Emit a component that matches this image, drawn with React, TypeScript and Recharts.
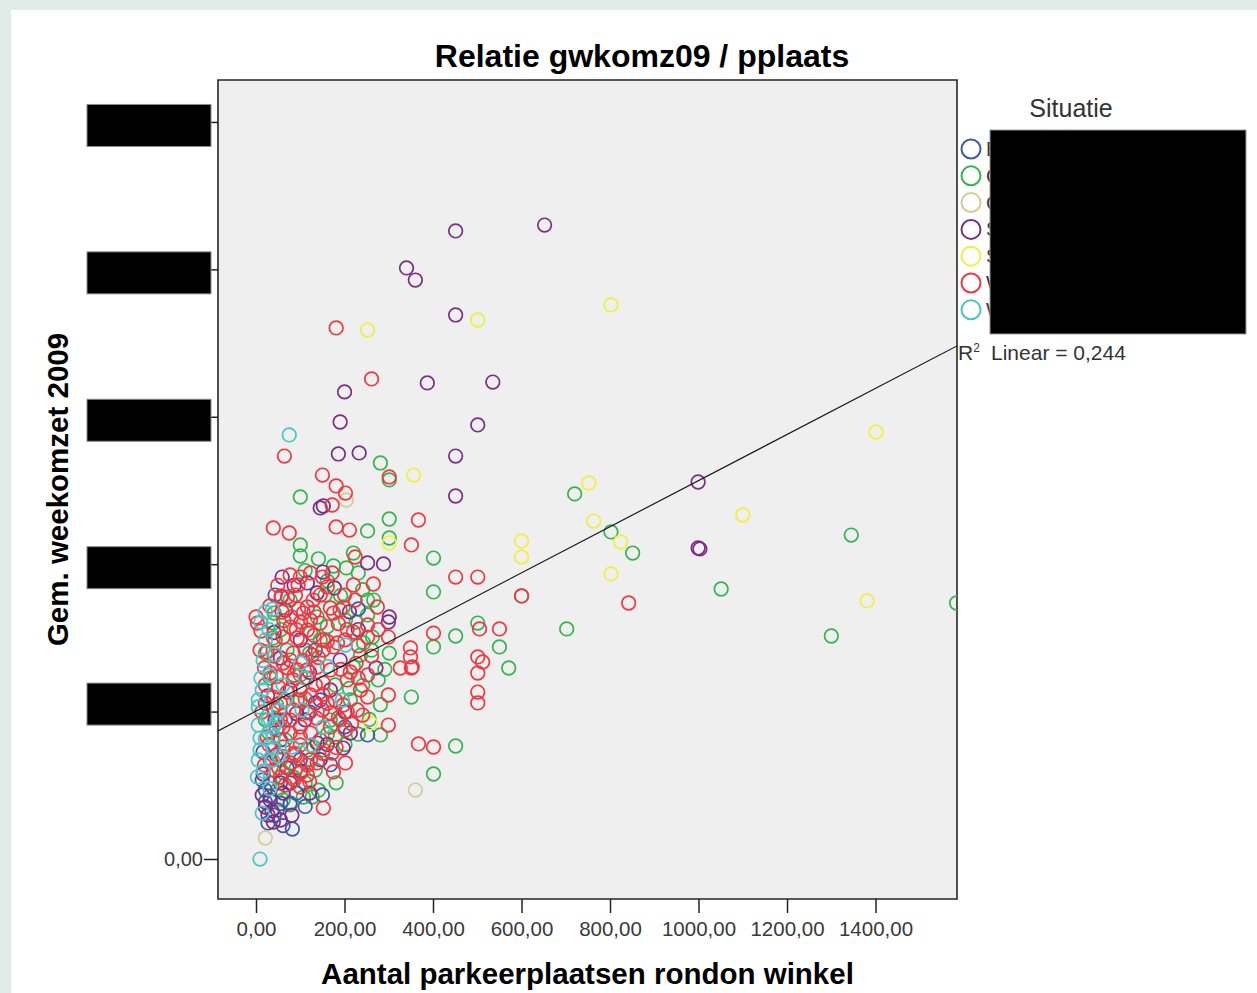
import React from 'react';
import { ScatterChart, Scatter, XAxis, YAxis, CartesianGrid, ReferenceArea, Legend, Label } from 'recharts';

const FONT = '"Liberation Sans", Arial, Helvetica, sans-serif';

const chartTitle = 'Relatie gwkomz09 / pplaats';
const xAxisTitle = 'Aantal parkeerplaatsen rondon winkel';
const yAxisTitle = 'Gem. weekomzet 2009';
const legendTitle = 'Situatie';
const situaties = ['Binnenstad', 'Centrum', 'Grootschalig', 'Stadsdeelcentrum', 'Solitair', 'Wijkcentrum', 'Woonwijk'];
const situatieColors = ['#3e58ac', '#33b54a', '#d3cc96', '#7c2d84', '#f2ee3e', '#f0373f', '#4cc4c8'];
const xTicks = [0, 200, 400, 600, 800, 1000, 1200, 1400];
const yTicks = [0, 1000, 2000, 3000, 4000, 5000];
const xDomain = [-87, 1583];
const yDomain = [-268, 5288];
const fitLine = [[-87, 872], [1583, 3484]];
const rSquared = '0,244';

const blueData = [
  [251, 845], [15, 729], [20, 471], [149, 438], [20, 390], [47, 336], [76, 383], [26, 248], [81, 207],
  [99, 677], [65, 947], [133, 1421], [42, 1794], [167, 643], [13, 539], [54, 811], [144, 1082],
  [30, 430], [55, 380], [90, 450], [110, 360], [40, 300], [60, 230], [200, 900], [120, 1000], [230, 1700],
];
const greenData = [
  [280, 2690], [300, 2575], [99, 2459], [300, 2310], [251, 2229], [300, 2181], [99, 2134], [99, 2059],
  [219, 2079], [174, 1991], [203, 1978], [230, 1944], [251, 1760], [196, 1713], [40, 1672], [137, 1645],
  [251, 1659], [38, 1604], [38, 1503], [122, 1537], [242, 1469], [262, 1509], [69, 1421], [219, 1306],
  [275, 1218], [31, 1231], [178, 1184], [350, 1102], [167, 946], [178, 831], [280, 845], [115, 743],
  [151, 743], [54, 675], [83, 560], [31, 519], [47, 471], [106, 424], [126, 424], [60, 404], [400, 2045],
  [400, 1815], [400, 1442], [450, 1516], [500, 1604], [549, 1442], [570, 1299], [701, 1564], [719, 2480],
  [801, 2222], [850, 2079], [1050, 1835], [1344, 2201], [1299, 1516], [1582, 1740], [450, 770], [400, 580],
  [599, 1788], [76, 1760], [144, 1489], [99, 1082], [189, 947], [133, 607], [76, 370], [212, 1082],
  [235, 1387], [201, 1624], [20, 947], [65, 811], [155, 1794], [99, 1252],
  [110, 1960], [140, 2040], [160, 1890], [190, 1790], [240, 1830], [265, 1760], [225, 1610], [260, 1420],
  [240, 1180], [210, 1160], [280, 1050], [255, 950], [230, 850], [200, 780], [160, 850], [130, 760],
  [90, 620], [60, 590], [110, 520], [140, 470], [180, 520], [28, 860], [45, 1050], [20, 1400], [55, 1560],
  [120, 1400], [160, 1580], [300, 1400], [290, 1290],
];
const beigeData = [[203, 2439], [359, 471], [20, 146]];
const purpleData = [
  [651, 4304], [450, 4264], [339, 4013], [359, 3931], [450, 3694], [199, 3172], [386, 3233], [534, 3239],
  [189, 2968], [500, 2948], [185, 2751], [232, 2758], [450, 2737], [450, 2466], [144, 2385], [151, 2398],
  [998, 2561], [998, 2113], [1002, 2107], [287, 2005], [251, 2012], [58, 1916], [176, 1842], [137, 1808],
  [56, 1781], [300, 1645], [298, 1611], [54, 1367], [133, 1062], [212, 858], [137, 790], [196, 756],
  [69, 621], [54, 519], [76, 519], [20, 356], [38, 254], [54, 268], [115, 1876], [99, 1489], [76, 1150],
  [42, 947], [144, 677], [110, 947], [13, 438], [26, 302], [65, 1692], [189, 1353], [167, 1150], [31, 404],
  [85, 1860], [150, 1950], [210, 1680], [40, 1540], [120, 1270], [90, 990], [200, 1000], [160, 780],
  [45, 710], [100, 600], [60, 450], [35, 330], [80, 300], [120, 450], [15, 580], [230, 1560], [270, 1300],
  [25, 1110],
];
const yellowData = [
  [801, 3762], [251, 3592], [500, 3660], [1400, 2900], [355, 2608], [751, 2554], [762, 2296], [599, 2161],
  [599, 2052], [823, 2154], [801, 1937], [1099, 2337], [1380, 1754], [300, 2147], [257, 926],
];
const redData = [
  [180, 3606], [260, 3260], [63, 2737], [149, 2608], [180, 2534], [201, 2486], [300, 2595], [171, 2405],
  [366, 2303], [38, 2249], [74, 2215], [180, 2256], [210, 2235], [350, 2134], [223, 2052], [76, 1930],
  [99, 1916], [122, 1944], [149, 1916], [171, 1944], [264, 1869], [94, 1862], [219, 1862], [223, 1760],
  [199, 1794], [144, 1794], [56, 1788], [115, 1713], [167, 1706], [273, 1713], [-1, 1645], [79, 1645],
  [174, 1672], [106, 1672], [2, 1604], [144, 1604], [251, 1591], [219, 1543], [115, 1557], [76, 1577],
  [60, 1509], [92, 1503], [151, 1489], [183, 1469], [251, 1509], [298, 1509], [348, 1435], [348, 1374],
  [325, 1299], [352, 1306], [174, 1442], [151, 1421], [24, 1408], [83, 1401], [126, 1387], [60, 1333],
  [92, 1286], [115, 1286], [137, 1306], [167, 1286], [212, 1272], [251, 1252], [31, 1265], [83, 1218],
  [115, 1231], [151, 1197], [205, 1218], [251, 1102], [298, 1116], [38, 1102], [69, 1136], [92, 1082],
  [122, 1116], [196, 1048], [205, 1001], [228, 1014], [38, 1028], [54, 1062], [83, 1014], [115, 994],
  [149, 1014], [167, 994], [76, 946], [99, 899], [60, 899], [24, 831], [76, 858], [99, 831], [122, 858],
  [167, 899], [201, 879], [298, 912], [366, 784], [60, 763], [99, 777], [171, 722], [201, 655], [76, 655],
  [38, 607], [99, 587], [137, 655], [174, 594], [54, 560], [115, 573], [99, 492], [151, 349], [400, 763],
  [599, 1788], [841, 1740], [450, 1916], [500, 1916], [400, 1536], [504, 1564], [549, 1564], [350, 1299],
  [500, 1374], [511, 1340], [500, 1265], [500, 1136], [500, 1062], [42, 1489], [65, 1082], [99, 1150],
  [133, 1184], [76, 1353], [110, 1421], [54, 947], [122, 677], [88, 709], [144, 811], [31, 675], [65, 505],
  [8, 1421], [122, 1624], [189, 1692], [88, 1794], [58, 1679], [20, 1184], [178, 1082], [235, 1150],
  [10, 1550], [30, 1720], [48, 1860], [70, 1780], [95, 1700], [128, 1760], [160, 1850], [185, 1600],
  [205, 1560], [230, 1450], [18, 1300], [45, 1240], [70, 1300], [105, 1350], [140, 1370], [190, 1290],
  [225, 1330], [12, 1000], [50, 1170], [85, 1250], [110, 1090], [135, 960], [160, 1060], [185, 960],
  [215, 920], [240, 980], [28, 780], [58, 700], [85, 720], [115, 640], [150, 720], [180, 760], [45, 880],
  [130, 1520], [160, 1480], [20, 1060], [90, 1560], [62, 1620], [100, 1610], [130, 1680], [200, 1490],
  [40, 1380], [150, 1120], [260, 1380], [275, 1560], [230, 1230], [50, 620], [85, 540], [120, 530],
  [18, 640],
];
const cyanData = [
  [74, 2880], [8, 3], [36, 1699], [20, 1489], [201, 1455], [99, 1333], [60, 1184], [4, 1082], [4, 1035],
  [194, 1082], [103, 1014], [38, 899], [151, 899], [8, 824], [38, 831], [8, 743], [38, 756], [81, 763],
  [36, 675], [2, 560], [13, 315], [20, 1679], [4, 912], [26, 947], [65, 1082], [122, 777], [13, 1150],
  [42, 1391], [4, 675], [10, 1610], [28, 1560], [15, 1350], [30, 1250], [10, 1230], [50, 1010], [20, 820],
  [50, 700], [15, 600], [30, 480], [45, 930], [160, 1310], [110, 1230],
];

// index into situaties for each series, in drawing order
const drawOrder = [
  { idx: 1, data: greenData },
  { idx: 0, data: blueData },
  { idx: 3, data: purpleData },
  { idx: 2, data: beigeData },
  { idx: 4, data: yellowData },
  { idx: 5, data: redData },
  { idx: 6, data: cyanData },
];

const toPts = (arr: number[][]) => arr.map(([x, y]) => ({ x, y }));
const fmt = (v: number) => v.toFixed(2).replace('.', ',');

const makeShape = (color: string) => (props: any) => {
  const { cx, cy } = props;
  if (cx == null || cy == null) return <g />;
  return <circle cx={cx} cy={cy} r={6.8} fill="none" stroke={color} strokeWidth={1.7} />;
};

const YTick = (props: any) => {
  const { x, y, payload } = props;
  const v = payload.value as number;
  const hidden = v !== 0;
  return (
    <g>
      <text x={x} y={y} dy={7} textAnchor="end" fill="#3a3a3a" fontSize={20} fontFamily={FONT}>
        {fmt(v)}
      </text>
      {hidden && (
        <rect x={x - 116} y={y - (v === 1000 ? 29 : 18)} width={124} height={42} fill="#000" stroke="#8a8a8a" strokeWidth={1} />
      )}
    </g>
  );
};

const YTitle = (props: any) => {
  const vb = props.viewBox || { x: 0, y: 80, width: 218, height: 819 };
  const cx = vb.x + 68;
  const cy = vb.y + vb.height / 2;
  return (
    <text x={cx} y={cy} transform={`rotate(-90, ${cx}, ${cy})`} textAnchor="middle" fontSize={29.5} fontWeight="bold" fontFamily={FONT} fill="#000">
      {yAxisTitle}
    </text>
  );
};

const XTitle = (props: any) => {
  const vb = props.viewBox || { x: 218, y: 899, width: 739, height: 94 };
  return (
    <text x={vb.x + vb.width / 2} y={vb.y + 85} textAnchor="middle" fontSize={29.5} fontWeight="bold" fontFamily={FONT} fill="#000">
      {xAxisTitle}
    </text>
  );
};

const LegendBox = () => (
  <svg width={317} height={290} style={{ display: 'block', overflow: 'visible' }}>
    <text x={131} y={27} textAnchor="middle" fontSize={25} fontFamily={FONT} fill="#333">
      {legendTitle}
    </text>
    {situaties.map((s, i) => (
      <g key={s}>
        <circle cx={31} cy={59 + i * 26.8} r={9.5} fill="none" stroke={situatieColors[i]} strokeWidth={2} />
        <text x={46} y={59 + i * 26.8 + 7} fontSize={20} fontFamily={FONT} fill="#333">
          {s}
        </text>
      </g>
    ))}
    <rect x={50} y={40} width={256} height={204} fill="#000" stroke="#9a9a9a" strokeWidth={1} />
    <text x={18} y={270} fontSize={21} fontFamily={FONT} fill="#333">
      R<tspan dy={-8} fontSize={12}>2</tspan>
    </text>
    <text x={51} y={270} fontSize={21} fontFamily={FONT} fill="#333">
      {'Linear = ' + rSquared}
    </text>
  </svg>
);

export default function App() {
  return (
    <div style={{ position: 'absolute', left: 0, top: 0, width: 1257, height: 993, background: '#e0eae6', overflow: 'hidden' }}>
      <div style={{ position: 'absolute', left: 11, top: 10, width: 1246, height: 983, background: '#ffffff' }} />
      <div style={{ position: 'absolute', left: 0, top: 0 }}>
        <ScatterChart width={1257} height={993} margin={{ top: 80, right: 300, bottom: 0, left: 0 }}>
          <CartesianGrid fill="#efefef" horizontal={false} vertical={false} stroke="none" />
          <XAxis
            type="number"
            dataKey="x"
            domain={xDomain}
            ticks={xTicks}
            allowDataOverflow
            height={94}
            axisLine={false}
            tickSize={14}
            tickMargin={8}
            tickLine={{ stroke: '#222', strokeWidth: 1.5 }}
            tick={{ fill: '#3a3a3a', fontSize: 20.5, fontFamily: FONT }}
            tickFormatter={fmt}
            interval={0}
          >
            <Label content={<XTitle />} />
          </XAxis>
          <YAxis
            type="number"
            dataKey="y"
            domain={yDomain}
            ticks={yTicks}
            allowDataOverflow
            width={218}
            axisLine={false}
            tickSize={14}
            tickMargin={1}
            tickLine={{ stroke: '#222', strokeWidth: 1.5 }}
            tick={<YTick />}
            interval={0}
          >
            <Label content={<YTitle />} />
          </YAxis>
          {drawOrder.map((s) => (
            <Scatter
              key={situaties[s.idx]}
              name={situaties[s.idx]}
              data={toPts(s.data)}
              fill="none"
              stroke={situatieColors[s.idx]}
              shape={makeShape(situatieColors[s.idx])}
              isAnimationActive={false}
            />
          ))}
          <Scatter
            name="Linear"
            data={toPts(fitLine)}
            line={{ stroke: '#1a1a1a', strokeWidth: 1.2 }}
            shape={() => <g />}
            legendType="none"
            isAnimationActive={false}
          />
          <ReferenceArea
            x1={xDomain[0]}
            x2={xDomain[1]}
            y1={yDomain[0]}
            y2={yDomain[1]}
            fill="none"
            stroke="#262626"
            strokeWidth={1.6}
            ifOverflow="visible"
          />
          <Legend
            layout="horizontal"
            verticalAlign="middle"
            align="center"
            content={() => <LegendBox />}
            wrapperStyle={{ left: 940, top: 90, width: 317, height: 290 }}
          />
        </ScatterChart>
      </div>
      <svg width={1257} height={90} style={{ position: 'absolute', left: 0, top: 0, pointerEvents: 'none' }}>
        <text x={642} y={67} textAnchor="middle" fontSize={32} fontWeight="bold" fontFamily={FONT} fill="#000">
          {chartTitle}
        </text>
      </svg>
    </div>
  );
}
